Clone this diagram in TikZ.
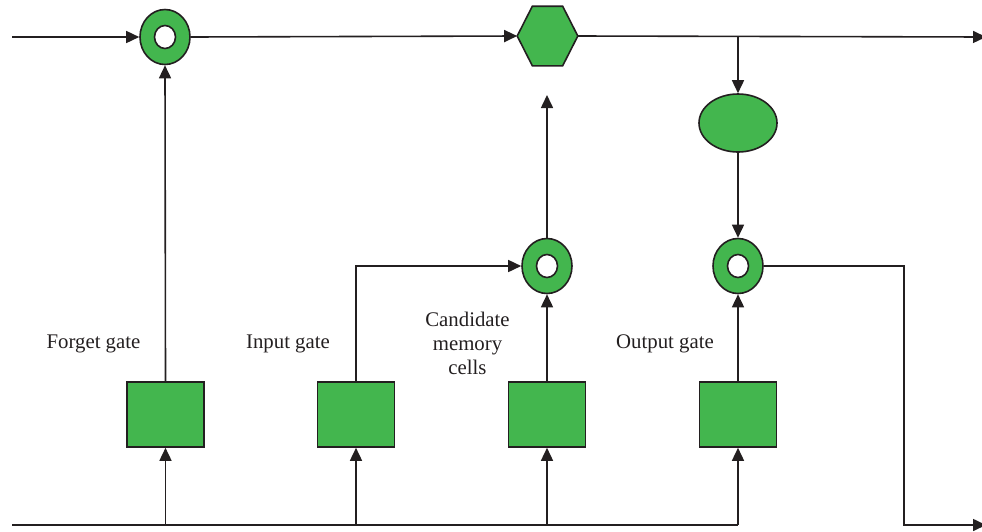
\documentclass[tikz,border=0pt]{standalone}
\usepackage{fontspec}
\setmainfont{Liberation Serif}
\usetikzlibrary{shapes.geometric,arrows.meta,calc}
\definecolor{gatefill}{RGB}{67,182,78}
\definecolor{ink}{RGB}{35,31,32}
\begin{document}
\begin{tikzpicture}[x=1pt,y=-1pt,
  line width=1.6pt,
  flow/.style={draw=ink,-{Triangle[length=13pt,width=12pt]}},
  wire/.style={draw=ink},
  gatebox/.style={draw=ink,fill=gatefill,minimum width=77pt,minimum height=65pt,inner sep=0pt},
  ring/.style={ellipse,draw=ink,fill=gatefill,minimum width=50pt,minimum height=55pt,inner sep=0pt},
  hole/.style={ellipse,draw=ink,fill=white,minimum width=21pt,minimum height=23pt,inner sep=0pt},
  oval/.style={ellipse,draw=ink,fill=gatefill,minimum width=78pt,minimum height=58pt,inner sep=0pt},
  lbl/.style={font=\fontsize{20.8}{24}\selectfont,text=ink,inner sep=0pt}]
\useasboundingbox (0,0) rectangle (982,531);

% multiplication rings
\node[ring] (mf) at (165,37) {};
\node[hole] at (mf) {};
\node[ring] (mi) at (547,266) {};
\node[hole] at (mi) {};
\node[ring] (mo) at (738,266) {};
\node[hole] at (mo) {};

% cell-state sum (hexagon) and tanh (oval)
\node[minimum width=59pt,minimum height=58pt,inner sep=0pt] (hex) at (547.5,36) {};
\draw[draw=ink,fill=gatefill] (hex.west)
  -- ($(hex.north west)!0.25!(hex.north east)$)
  -- ($(hex.north west)!0.75!(hex.north east)$)
  -- (hex.east)
  -- ($(hex.south west)!0.75!(hex.south east)$)
  -- ($(hex.south west)!0.25!(hex.south east)$) -- cycle;
\node[oval] (th) at (738,123) {};

% gate layers
\node[gatebox] (gf) at (165.5,414.5) {};
\node[gatebox] (gi) at (356,414.5) {};
\node[gatebox] (gc) at (547,414.5) {};
\node[gatebox] (go) at (738,414.5) {};

% labels
\node[lbl,anchor=base] (lf) at (93.5,348) {Forget gate};
\node[lbl,anchor=base] (li) at (288,348) {Input gate};
\node[lbl,anchor=base] (lo) at (665,348) {Output gate};
\node[lbl,align=center,anchor=north] (lc) at (467.5,311) {Candidate\\memory\\cells};

% free ends
\coordinate (cin) at (12,37);
\coordinate (cout) at (986,37);
\coordinate (xin) at (12,525);
\coordinate (hout) at (986,525);
\coordinate (up) at (547,95);
\coordinate (tap) at (738,37);
\coordinate (bf) at (165.5,525);
\coordinate (bi) at (356,525);
\coordinate (bc) at (547,525);
\coordinate (bo) at (738,525);

% cell state line
\draw[flow] (cin) -- (mf.west);
\draw[flow] (mf.east) -- (hex.west);
\draw[flow] (hex.east) -- (cout);
\draw[flow] (tap) -- (th.north);
\draw[flow] (th.south) -- (mo.north);
\draw[flow] (mi.north) -- (up);

% input line and gate feeds
\draw[wire] (xin) -- (bo);
\draw[flow] (bf) -- (gf.south);
\draw[flow] (bi) -- (gi.south);
\draw[flow] (bc) -- (gc.south);
\draw[flow] (bo) -- (go.south);

% gate outputs
\draw[flow] (gf.north) -- (mf.south);
\draw[flow] (gi.north) |- (mi.west);
\draw[flow] (gc.north) -- (mi.south);
\draw[flow] (go.north) -- (mo.south);

% hidden output
\draw[flow] (mo.east) -| (904,525) -- (hout);
\end{tikzpicture}
\end{document}
